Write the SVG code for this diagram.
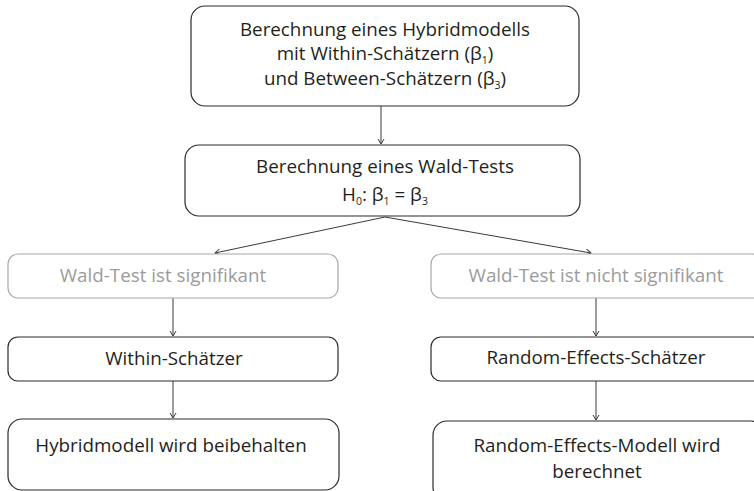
<svg xmlns="http://www.w3.org/2000/svg" width="754" height="491" viewBox="0 0 754 491">
  <style>
    .box { fill: #ffffff; stroke: #2b2b2b; stroke-width: 1.2; }
    .box-muted { fill: #ffffff; stroke: #a8a8a8; stroke-width: 1.2; }
    .label { font-family: "Open Sans", "Liberation Sans", sans-serif; font-size: 18.8px; fill: #231f20; text-anchor: middle; }
    .label-muted { fill: #9b9b9b; }
    .sub { font-size: 10.5px; }
    .edge { stroke: #3a3a3a; stroke-width: 1; fill: none; marker-end: url(#arrow); }
  </style>
  <defs>
    <marker id="arrow" markerUnits="userSpaceOnUse" markerWidth="10" markerHeight="10" refX="8" refY="5" orient="auto">
      <path d="M3,2 L8,5 L3,8" fill="none" stroke="#3a3a3a" stroke-width="1"/>
    </marker>
  </defs>

  <rect width="754" height="491" fill="#ffffff"/>

  <!-- connectors -->
  <g id="connectors">
    <line class="edge" x1="381" y1="106" x2="381" y2="144"/>
    <line class="edge" x1="385" y1="217" x2="215" y2="253"/>
    <line class="edge" x1="385" y1="217" x2="591" y2="253"/>
    <line class="edge" x1="173" y1="298" x2="173" y2="336"/>
    <line class="edge" x1="596" y1="298" x2="596" y2="336"/>
    <line class="edge" x1="173" y1="381" x2="173" y2="418"/>
    <line class="edge" x1="596" y1="381" x2="596" y2="420"/>
  </g>

  <!-- hybrid model -->
  <g id="hybrid">
    <rect class="box" x="191" y="6" width="388" height="100" rx="14"/>
    <text class="label" x="385" y="36">Berechnung eines Hybridmodells</text>
    <text class="label" x="385" y="60">mit Within-Schätzern (β<tspan class="sub" dy="3.5">1</tspan><tspan dy="-3.5">)</tspan></text>
    <text class="label" x="385" y="85">und Between-Schätzern (β<tspan class="sub" dy="3.5">3</tspan><tspan dy="-3.5">)</tspan></text>
  </g>

  <!-- Wald test -->
  <g id="wald">
    <rect class="box" x="185" y="145" width="395" height="71" rx="14"/>
    <text class="label" x="385" y="173">Berechnung eines Wald-Tests</text>
    <text class="label" x="385" y="201">H<tspan class="sub" dy="4">0</tspan><tspan dy="-4">: β</tspan><tspan class="sub" dy="4">1</tspan><tspan dy="-4"> = β</tspan><tspan class="sub" dy="4">3</tspan></text>
  </g>

  <!-- significant branch -->
  <g id="significant">
    <rect class="box-muted" x="8" y="254" width="330" height="44" rx="10"/>
    <text class="label label-muted" x="163" y="282">Wald-Test ist signifikant</text>
  </g>
  <g id="within">
    <rect class="box" x="8" y="337" width="330" height="44" rx="10"/>
    <text class="label" x="174" y="365">Within-Schätzer</text>
  </g>
  <g id="keep-hybrid">
    <rect class="box" x="8" y="419" width="331" height="71" rx="14"/>
    <text class="label" x="171" y="452">Hybridmodell wird beibehalten</text>
  </g>

  <!-- not significant branch -->
  <g id="not-significant">
    <rect class="box-muted" x="431" y="254" width="332" height="44" rx="10"/>
    <text class="label label-muted" x="596" y="282">Wald-Test ist nicht signifikant</text>
  </g>
  <g id="random-effects">
    <rect class="box" x="431" y="337" width="332" height="44" rx="10"/>
    <text class="label" x="596" y="364">Random-Effects-Schätzer</text>
  </g>
  <g id="re-model">
    <rect class="box" x="433" y="421" width="332" height="80" rx="14"/>
    <text class="label" x="597" y="452">Random-Effects-Modell wird</text>
    <text class="label" x="597" y="478">berechnet</text>
  </g>
</svg>
